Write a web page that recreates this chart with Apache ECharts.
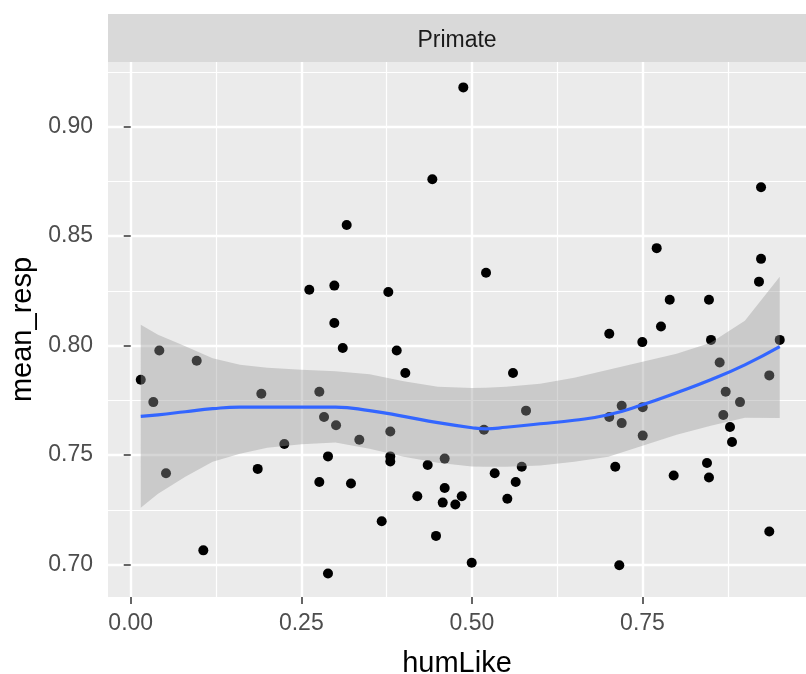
<!DOCTYPE html>
<html lang="en">
<head>
    <meta charset="UTF-8">
    <title>Primate</title>
    <script src="https://cdn.jsdelivr.net/npm/echarts@6/dist/echarts.min.js"></script>
    <style>
        html, body { margin: 0; padding: 0; background: #ffffff; }
    </style>
</head>
<body>
    <div id="main" style="width: 806px;height:674px;"></div>
    <script type="text/javascript">
        var myChart = echarts.init(document.getElementById('main'));

        // points
        let humLike = [0.0147, 0.0331, 0.0419, 0.0517, 0.0967, 0.1064, 0.1861, 0.1914, 0.2251, 0.2617,
            0.2764, 0.2764, 0.2833, 0.2891, 0.2891, 0.2984, 0.2984, 0.3009, 0.3107, 0.3165,
            0.3228, 0.3350, 0.3678, 0.3775, 0.3804, 0.3804, 0.3804, 0.3898, 0.4024, 0.4200,
            0.4352, 0.4420, 0.4474, 0.4572, 0.4601, 0.4601, 0.4757, 0.4851, 0.4874, 0.4997,
            0.5177, 0.5207, 0.5334, 0.5519, 0.5602, 0.5642, 0.5730, 0.5793, 0.7013, 0.7013,
            0.7101, 0.7160, 0.7195, 0.7195, 0.7497, 0.7503, 0.7503, 0.7708, 0.7771, 0.7899,
            0.7957, 0.8445, 0.8474, 0.8474, 0.8504, 0.8631, 0.8684, 0.8719, 0.8782, 0.8812,
            0.8929, 0.9207, 0.9237, 0.9237, 0.9358, 0.9358, 0.9511];
        let meanResp = [0.7844, 0.7742, 0.7978, 0.7417, 0.7931, 0.7065, 0.7437, 0.7780, 0.7551, 0.8255,
            0.7789, 0.7377, 0.7674, 0.7494, 0.6959, 0.8274, 0.8103, 0.7636, 0.7989, 0.8551,
            0.7370, 0.7570, 0.7198, 0.8245, 0.7608, 0.7494, 0.7471, 0.7978, 0.7875, 0.7312,
            0.7455, 0.8760, 0.7131, 0.7283, 0.7484, 0.7350, 0.7274, 0.7312, 0.9179, 0.7008,
            0.7616, 0.8333, 0.7417, 0.7301, 0.7875, 0.7377, 0.7447, 0.7703, 0.8054, 0.7674,
            0.7447, 0.6997, 0.7725, 0.7646, 0.8016, 0.7719, 0.7589, 0.8445, 0.8087, 0.8209,
            0.7407, 0.7464, 0.7398, 0.8209, 0.8026, 0.7923, 0.7683, 0.7789, 0.7628, 0.7560,
            0.7742, 0.8292, 0.8723, 0.8396, 0.7864, 0.7151, 0.8026];

        // loess fit and its confidence band
        let fitX = [0.0147, 0.04, 0.08, 0.12, 0.16, 0.20, 0.25, 0.30, 0.35, 0.40, 0.45,
            0.50, 0.52, 0.55, 0.60, 0.65, 0.70, 0.75, 0.80, 0.85, 0.90, 0.9511];
        let fitY = [0.7677, 0.7684, 0.7698, 0.7712, 0.7719, 0.7719, 0.7719, 0.7719, 0.7703, 0.7677, 0.7648,
            0.7625, 0.7620, 0.7627, 0.7643, 0.7659, 0.7684, 0.7730, 0.7785, 0.7844, 0.7912, 0.7995];
        let fitUpper = [0.8095, 0.8049, 0.7997, 0.7942, 0.7912, 0.7899, 0.7890, 0.7883, 0.7869, 0.7837, 0.7812,
            0.7806, 0.7807, 0.7812, 0.7826, 0.7853, 0.7890, 0.7926, 0.7963, 0.8013, 0.8113, 0.8314];
        let fitLower = [0.7259, 0.7324, 0.7401, 0.7470, 0.7506, 0.7534, 0.7550, 0.7557, 0.7529, 0.7493, 0.7465,
            0.7448, 0.7447, 0.7447, 0.7452, 0.7470, 0.7493, 0.7543, 0.7593, 0.7634, 0.7671, 0.7669];

        let xTicks = [0, 0.25, 0.5, 0.75];
        let xMinor = [0.125, 0.375, 0.625, 0.875];
        let yTicks = [0.70, 0.75, 0.80, 0.85, 0.90];
        let yMinor = [0.725, 0.775, 0.825, 0.875, 0.925];

        let font = 'Arial, "Liberation Sans", sans-serif';
        let xMin = -0.0333, xMax = 0.9896;
        let yMin = 0.6852, yMax = 0.9295;

        let points = humLike.map((x, i) => [x, meanResp[i]]);
        let fitLine = fitX.map((x, i) => [x, fitY[i]]);

        let majorAxis = (ticks, name, gap, pos, labelMargin) => ({
            type: 'value',
            position: pos,
            name: name,
            nameLocation: 'middle',
            nameGap: gap,
            nameTextStyle: {color: '#000000', fontSize: 29, fontFamily: font},
            axisLine: {show: false},
            axisTick: {show: true, length: 7, customValues: ticks, lineStyle: {color: '#333333', width: 1.5}},
            axisLabel: {
                customValues: ticks, margin: labelMargin, color: '#4D4D4D', fontSize: 23, fontFamily: font,
                formatter: v => v.toFixed(2),
            },
            splitLine: {show: true, lineStyle: {color: '#ffffff', width: 2.4}},
        });
        let minorAxis = (ticks, pos) => ({
            type: 'value',
            position: pos,
            axisLine: {show: false},
            axisTick: {show: false, customValues: ticks},
            axisLabel: {show: false, customValues: ticks},
            splitLine: {show: true, lineStyle: {color: '#ffffff', width: 1.2}},
        });

        let xa = majorAxis(xTicks, 'humLike', 52, 'bottom', 15);
        let xb = minorAxis(xMinor, 'bottom');
        let ya = majorAxis(yTicks, 'mean_resp', 66, 'left', 15);
        let yb = minorAxis(yMinor, 'left');
        [xa, xb].forEach(a => { a.min = xMin; a.max = xMax; });
        [ya, yb].forEach(a => { a.min = yMin; a.max = yMax; });

        let option = {
            animation: false,
            backgroundColor: '#ffffff',
            grid: {
                left: 108, right: 0, top: 62, bottom: 77,
                containLabel: false, outerBoundsMode: 'none',
                show: true, backgroundColor: '#EBEBEB', borderWidth: 0,
            },
            graphic: [
                {
                    type: 'rect', left: 108, top: 14, z: 0,
                    shape: {width: 698, height: 48},
                    style: {fill: '#D9D9D9'},
                },
                {
                    type: 'text', x: 457, y: 41, z: 1,
                    style: {
                        text: 'Primate', fill: '#1A1A1A', fontSize: 23, fontFamily: font,
                        align: 'center', verticalAlign: 'middle',
                    },
                },
            ],
            xAxis: [xb, xa],
            yAxis: [yb, ya],
            series: [
                {
                    name: 'points',
                    type: 'scatter',
                    xAxisIndex: 1,
                    yAxisIndex: 1,
                    symbolSize: 10,
                    itemStyle: {color: '#000000', opacity: 1},
                    z: 2,
                    data: points,
                },
                {
                    name: 'band',
                    type: 'custom',
                    xAxisIndex: 1,
                    yAxisIndex: 1,
                    z: 3,
                    silent: true,
                    data: [[fitX[0], fitY[0]]],
                    renderItem: (params, api) => {
                        let pts = [];
                        for (let i = 0; i < fitX.length; i++) pts.push(api.coord([fitX[i], fitUpper[i]]));
                        for (let i = fitX.length - 1; i >= 0; i--) pts.push(api.coord([fitX[i], fitLower[i]]));
                        return {
                            type: 'polygon',
                            shape: {points: pts},
                            style: {fill: 'rgba(153,153,153,0.4)', stroke: 'none'},
                        };
                    },
                },
                {
                    name: 'loess',
                    type: 'line',
                    xAxisIndex: 1,
                    yAxisIndex: 1,
                    z: 4,
                    smooth: true,
                    showSymbol: false,
                    lineStyle: {color: '#3366FF', width: 3.2},
                    data: fitLine,
                },
            ],
        };

        myChart.setOption(option);
    </script>
</body>
</html>
